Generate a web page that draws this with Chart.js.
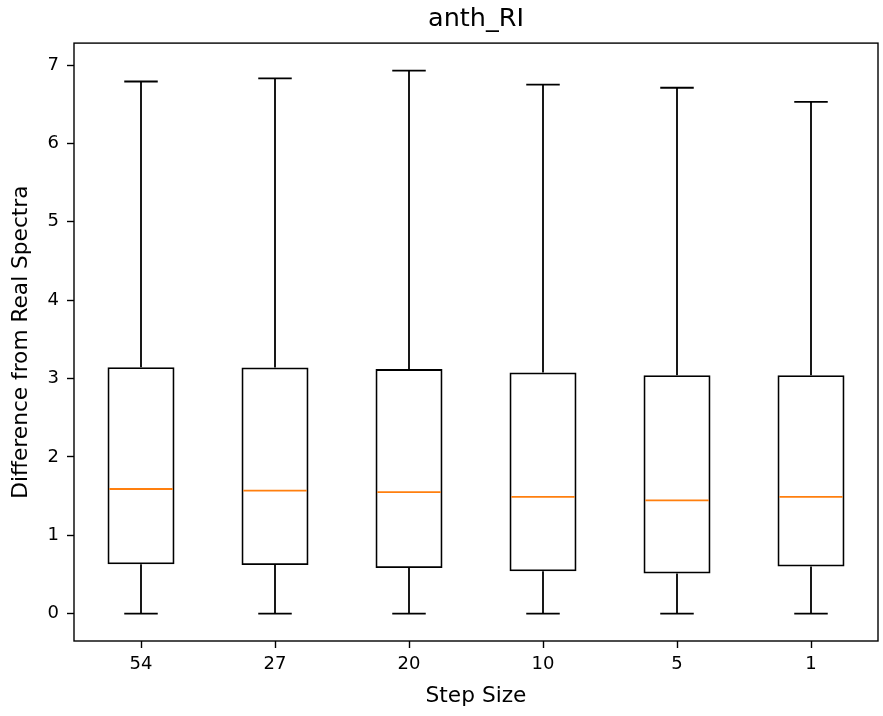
<!DOCTYPE html>
<html>
<head>
<meta charset="utf-8">
<title>anth_RI</title>
<script src="https://cdn.jsdelivr.net/npm/chart.js@4.4.1/dist/chart.umd.min.js"></script>
<style>
  html, body { margin: 0; padding: 0; background: #fff; }
  #wrap { width: 883px; height: 716px; }
</style>
</head>
<body>
<div id="wrap"><canvas id="chart" width="883" height="716"></canvas></div>
<script>
// ---- data ----
const categories  = ['54', '27', '20', '10', '5', '1'];
const whiskerLow  = [0, 0, 0, 0, 0, 0];
const q1          = [0.63, 0.62, 0.58, 0.54, 0.51, 0.60];
const medians     = [1.59, 1.57, 1.55, 1.49, 1.445, 1.49];
const q3          = [3.145, 3.14, 3.12, 3.077, 3.042, 3.042];
const whiskerHigh = [6.79, 6.83, 6.93, 6.75, 6.71, 6.53];
const yTicks      = [0, 1, 2, 3, 4, 5, 6, 7];

const LINE = 1.8;          // box / whisker width
const FRAME = 1.4;         // axes spine width
const MEDIAN_COLOR = '#ff7f0e';

Chart.defaults.font.family = "'DejaVu Sans', sans-serif";
Chart.defaults.color = '#000';

// whiskers, caps and medians, placed through the chart's own scales
const boxExtras = {
  id: 'boxExtras',
  afterDatasetsDraw(chart) {
    const { ctx, scales: { x, y } } = chart;
    const meta = chart.getDatasetMeta(0);
    const capHalf = (x.getPixelForValue(1) - x.getPixelForValue(0)) * 0.125;
    ctx.save();
    ctx.lineCap = 'butt';
    categories.forEach((c, i) => {
      const cx = x.getPixelForValue(i);
      ctx.strokeStyle = '#000';
      ctx.lineWidth = LINE;
      ctx.beginPath();
      ctx.moveTo(cx, y.getPixelForValue(q3[i]));
      ctx.lineTo(cx, y.getPixelForValue(whiskerHigh[i]));
      ctx.moveTo(cx, y.getPixelForValue(q1[i]));
      ctx.lineTo(cx, y.getPixelForValue(whiskerLow[i]));
      ctx.moveTo(cx - capHalf, y.getPixelForValue(whiskerHigh[i]));
      ctx.lineTo(cx + capHalf, y.getPixelForValue(whiskerHigh[i]));
      ctx.moveTo(cx - capHalf, y.getPixelForValue(whiskerLow[i]));
      ctx.lineTo(cx + capHalf, y.getPixelForValue(whiskerLow[i]));
      ctx.stroke();

      const bar = meta.data[i];
      const my = y.getPixelForValue(medians[i]);
      ctx.strokeStyle = MEDIAN_COLOR;
      ctx.beginPath();
      ctx.moveTo(bar.x - bar.width / 2 + LINE, my);
      ctx.lineTo(bar.x + bar.width / 2 - LINE, my);
      ctx.stroke();
    });
    ctx.restore();
  }
};

// matplotlib-like closed frame
const frame = {
  id: 'frame',
  afterDraw(chart) {
    const { ctx, chartArea: a } = chart;
    ctx.save();
    ctx.strokeStyle = '#000';
    ctx.lineWidth = FRAME;
    ctx.strokeRect(a.left, a.top, a.right - a.left, a.bottom - a.top);
    ctx.restore();
  }
};

new Chart(document.getElementById('chart'), {
  type: 'bar',
  data: {
    labels: categories,
    datasets: [{
      data: categories.map((c, i) => [q1[i], q3[i]]),
      backgroundColor: 'rgba(0,0,0,0)',
      borderColor: '#000',
      borderWidth: LINE,
      borderSkipped: false,
      barPercentage: 0.5,
      categoryPercentage: 1.0,
    }]
  },
  options: {
    responsive: false,
    animation: false,
    devicePixelRatio: 1,
    layout: { padding: { top: 0, right: 5, bottom: 0, left: 0 } },
    plugins: {
      legend: { display: false },
      tooltip: { enabled: false },
      title: {
        display: true, text: 'anth_RI', fullSize: false,
        font: { size: 25.5, weight: 'normal' },
        padding: { top: 4.5, bottom: 8 },
        color: '#000',
      },
    },
    scales: {
      x: {
        offset: true,
        border: { display: false },
        grid: { offset: false, drawOnChartArea: false, drawTicks: true, tickLength: 7, tickColor: '#000', tickWidth: FRAME },
        ticks: { font: { size: 18 }, color: '#000', padding: 6, maxRotation: 0 },
        title: { display: true, text: 'Step Size', font: { size: 21.7 }, color: '#000', padding: { top: 0, bottom: 6.5 } },
        afterFit: s => { s.height = 75; },
      },
      y: {
        min: -0.35, max: 7.28,
        border: { display: false },
        grid: { drawOnChartArea: false, drawTicks: true, tickLength: 7, tickColor: '#000', tickWidth: FRAME },
        ticks: { font: { size: 18 }, color: '#000', padding: 8 },
        afterBuildTicks: s => { s.ticks = yTicks.map(v => ({ value: v })); },
        title: { display: true, text: 'Difference from Real Spectra', font: { size: 21.7 }, color: '#000', padding: { top: 8.5, bottom: 0 } },
        afterFit: s => { s.width = 74; },
      },
    },
  },
  plugins: [boxExtras, frame],
});
</script>
</body>
</html>
